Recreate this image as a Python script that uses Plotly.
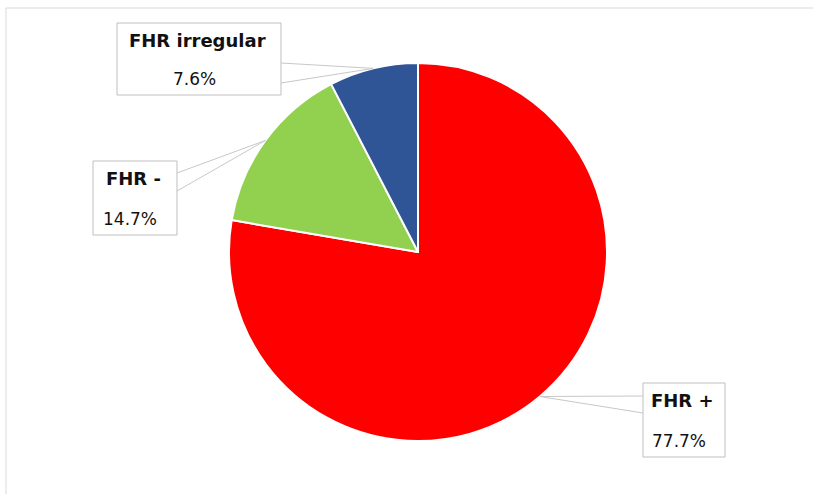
import math
import plotly.graph_objects as go

labels = ["FHR +", "FHR -", "FHR irregular"]
values = [77.7, 14.7, 7.6]
colors = ["#FF0000", "#92D050", "#2F5597"]
pct_text = ["77.7%", "14.7%", "7.6%"]

W, H = 813, 494
cx, cy, R = 418, 252, 189  # pie centre / radius in pixels (layout)

def px(x):
    return x / W

def py(y):
    return 1 - y / H

fig = go.Figure(go.Pie(
    labels=labels, values=values, sort=False, direction="clockwise", rotation=0,
    marker=dict(colors=colors, line=dict(color="white", width=2)),
    textinfo="none", hoverinfo="label+percent", showlegend=False,
    domain=dict(x=[px(cx - R), px(cx + R)], y=[py(cy + R), py(cy - R)]),
))

# label boxes (layout): x0, y0, x1, y1, attach x, attach y top, attach y bottom
boxes = [
    (643, 383, 725, 457, 643, 396, 413),
    (93, 161, 177, 235, 177, 173, 191),
    (117, 23, 281, 95, 281, 63, 83),
]

shapes = [dict(type="rect", xref="paper", yref="paper", x0=px(6), y0=py(8), x1=px(830), y1=py(510),
               line=dict(color="#D9D9D9", width=1), fillcolor="rgba(0,0,0,0)", layer="below")]
annotations = []
total = sum(values)
cum = 0.0
for lab, v, pt, b in zip(labels, values, pct_text, boxes):
    mid = (cum + v / 2) / total * 2 * math.pi
    cum += v
    ex = cx + R * math.sin(mid)
    ey = cy - R * math.cos(mid)
    x0, y0, x1, y1, ax, ay1, ay2 = b
    shapes.append(dict(type="rect", xref="paper", yref="paper", x0=px(x0), y0=py(y0), x1=px(x1), y1=py(y1),
                       line=dict(color="#BFBFBF", width=1), fillcolor="white"))
    shapes.append(dict(type="path", xref="paper", yref="paper",
                       path=f"M {px(ax)} {py(ay1)} L {px(ex)} {py(ey)} L {px(ax)} {py(ay2)}",
                       line=dict(color="#C8C8C8", width=1)))
    xc = (x0 + x1) / 2 - 2
    hgt = y1 - y0
    annotations.append(dict(xref="paper", yref="paper", x=px(xc), y=py(y0 + hgt * 0.24),
                            text=f"<b>{lab}</b>", showarrow=False, xanchor="center", yanchor="middle",
                            font=dict(family="DejaVu Sans", size=18, color="#111111")))
    annotations.append(dict(xref="paper", yref="paper", x=px(xc - 3), y=py(y0 + hgt * 0.78),
                            text=pt, showarrow=False, xanchor="center", yanchor="middle",
                            font=dict(family="DejaVu Sans", size=17, color="#111111")))

fig.update_layout(width=W, height=H, margin=dict(l=0, r=0, t=0, b=0),
                  paper_bgcolor="white", plot_bgcolor="white",
                  shapes=shapes, annotations=annotations)
fig.write_html("out.html", config={"displayModeBar": False},
               post_script="document.body.style.margin='0px';")
